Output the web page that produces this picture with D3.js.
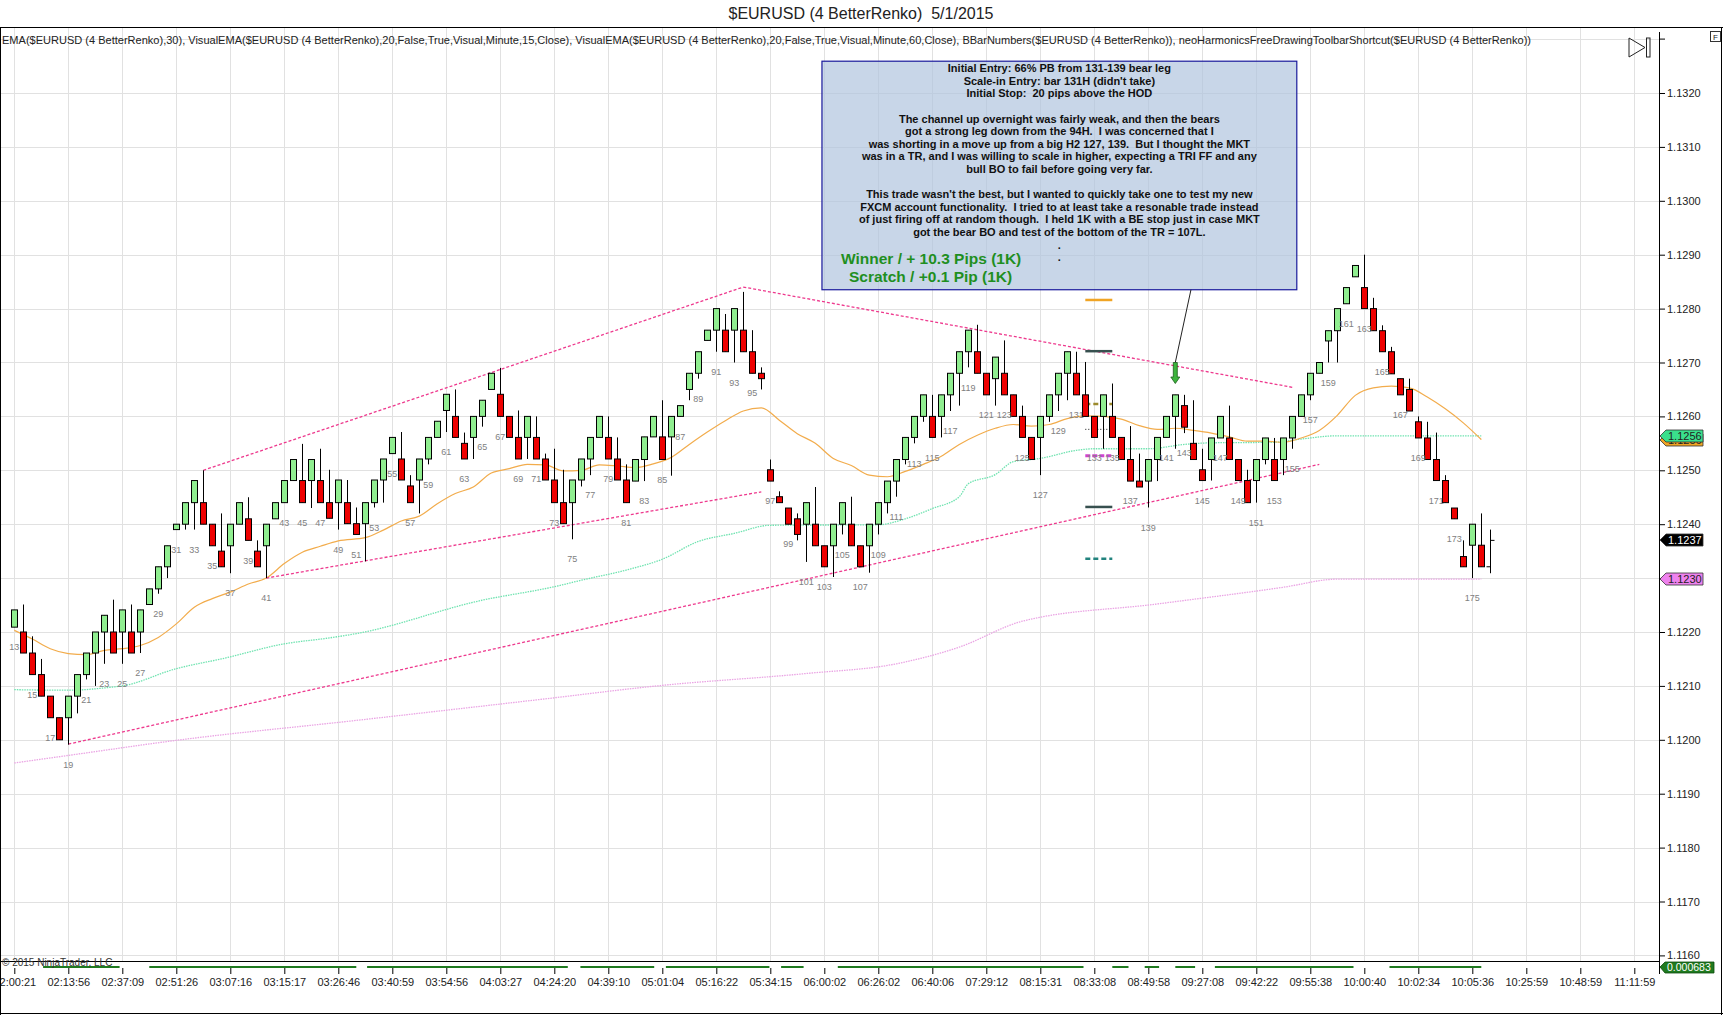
<!DOCTYPE html>
<html>
<head>
<meta charset="utf-8">
<script src="https://cdn.jsdelivr.net/npm/d3@7"></script>
<style>
  body { margin: 0; background: #fff; }
  svg { display: block; font-family: Arial, 'Liberation Sans', sans-serif; }
</style>
</head>
<body>
<div id="container"></div>
<script>
const firstBar = 13;

// [open, high, low, close] per renko bar, starting at bar 13
const ohlc = [
  [1.12209, 1.12241, 1.12209, 1.12241], [1.12200, 1.12251, 1.12161, 1.12161], [1.12161, 1.12192, 1.12121, 1.12121],
  [1.12121, 1.12150, 1.12081, 1.12081], [1.12081, 1.12081, 1.12041, 1.12041], [1.12041, 1.12041, 1.12000, 1.12000],
  [1.12041, 1.12081, 1.11991, 1.12081], [1.12081, 1.12121, 1.12049, 1.12121], [1.12121, 1.12161, 1.12112, 1.12161],
  [1.12161, 1.12200, 1.12100, 1.12200], [1.12200, 1.12231, 1.12141, 1.12231], [1.12200, 1.12260, 1.12161, 1.12161],
  [1.12200, 1.12241, 1.12141, 1.12241], [1.12200, 1.12251, 1.12161, 1.12161], [1.12200, 1.12241, 1.12161, 1.12241],
  [1.12251, 1.12280, 1.12251, 1.12280], [1.12280, 1.12321, 1.12271, 1.12321], [1.12321, 1.12360, 1.12300, 1.12360],
  [1.12390, 1.12400, 1.12390, 1.12400], [1.12400, 1.12440, 1.12390, 1.12440], [1.12440, 1.12481, 1.12390, 1.12481],
  [1.12440, 1.12500, 1.12400, 1.12400], [1.12400, 1.12400, 1.12360, 1.12360], [1.12350, 1.12420, 1.12321, 1.12321],
  [1.12360, 1.12400, 1.12309, 1.12400], [1.12400, 1.12440, 1.12400, 1.12440], [1.12410, 1.12450, 1.12370, 1.12370],
  [1.12350, 1.12370, 1.12321, 1.12321], [1.12360, 1.12400, 1.12300, 1.12400], [1.12410, 1.12440, 1.12410, 1.12440],
  [1.12440, 1.12481, 1.12440, 1.12481], [1.12481, 1.12520, 1.12481, 1.12520], [1.12481, 1.12549, 1.12440, 1.12440],
  [1.12481, 1.12520, 1.12430, 1.12520], [1.12481, 1.12540, 1.12440, 1.12440], [1.12440, 1.12501, 1.12411, 1.12411],
  [1.12440, 1.12482, 1.12390, 1.12482], [1.12440, 1.12482, 1.12401, 1.12401], [1.12401, 1.12431, 1.12381, 1.12381],
  [1.12401, 1.12440, 1.12331, 1.12440], [1.12440, 1.12482, 1.12431, 1.12482], [1.12482, 1.12521, 1.12440, 1.12521],
  [1.12531, 1.12561, 1.12531, 1.12561], [1.12521, 1.12571, 1.12482, 1.12482], [1.12471, 1.12491, 1.12440, 1.12440],
  [1.12482, 1.12521, 1.12420, 1.12521], [1.12521, 1.12561, 1.12511, 1.12561], [1.12561, 1.12591, 1.12561, 1.12591],
  [1.12611, 1.12641, 1.12571, 1.12641], [1.12600, 1.12650, 1.12561, 1.12561], [1.12550, 1.12570, 1.12521, 1.12521],
  [1.12561, 1.12600, 1.12521, 1.12600], [1.12600, 1.12630, 1.12581, 1.12630], [1.12650, 1.12680, 1.12650, 1.12680],
  [1.12641, 1.12690, 1.12600, 1.12600], [1.12600, 1.12600, 1.12561, 1.12561], [1.12561, 1.12611, 1.12521, 1.12521],
  [1.12561, 1.12600, 1.12521, 1.12600], [1.12561, 1.12600, 1.12521, 1.12521], [1.12521, 1.12531, 1.12482, 1.12482],
  [1.12482, 1.12540, 1.12440, 1.12440], [1.12440, 1.12501, 1.12401, 1.12401], [1.12440, 1.12482, 1.12372, 1.12482],
  [1.12482, 1.12521, 1.12470, 1.12521], [1.12521, 1.12561, 1.12491, 1.12561], [1.12561, 1.12600, 1.12561, 1.12600],
  [1.12561, 1.12600, 1.12521, 1.12521], [1.12521, 1.12561, 1.12482, 1.12482], [1.12482, 1.12511, 1.12440, 1.12440],
  [1.12480, 1.12520, 1.12480, 1.12520], [1.12520, 1.12562, 1.12480, 1.12562], [1.12562, 1.12600, 1.12562, 1.12600],
  [1.12562, 1.12630, 1.12520, 1.12520], [1.12562, 1.12600, 1.12490, 1.12600], [1.12600, 1.12620, 1.12600, 1.12620],
  [1.12650, 1.12680, 1.12630, 1.12680], [1.12680, 1.12720, 1.12670, 1.12720], [1.12741, 1.12760, 1.12741, 1.12760],
  [1.12760, 1.12800, 1.12720, 1.12800], [1.12760, 1.12790, 1.12720, 1.12720], [1.12760, 1.12800, 1.12700, 1.12800],
  [1.12760, 1.12831, 1.12720, 1.12720], [1.12720, 1.12760, 1.12680, 1.12680], [1.12680, 1.12691, 1.12650, 1.12670],
  [1.12501, 1.12520, 1.12480, 1.12480], [1.12451, 1.12461, 1.12440, 1.12440], [1.12430, 1.12430, 1.12400, 1.12400],
  [1.12410, 1.12420, 1.12370, 1.12381], [1.12400, 1.12440, 1.12330, 1.12440], [1.12400, 1.12469, 1.12360, 1.12360],
  [1.12360, 1.12360, 1.12321, 1.12321], [1.12360, 1.12400, 1.12302, 1.12400], [1.12400, 1.12440, 1.12381, 1.12440],
  [1.12400, 1.12451, 1.12360, 1.12360], [1.12360, 1.12360, 1.12321, 1.12321], [1.12360, 1.12400, 1.12310, 1.12400],
  [1.12400, 1.12440, 1.12381, 1.12440], [1.12440, 1.12480, 1.12420, 1.12480], [1.12480, 1.12520, 1.12451, 1.12520],
  [1.12520, 1.12561, 1.12511, 1.12561], [1.12561, 1.12600, 1.12550, 1.12600], [1.12600, 1.12640, 1.12590, 1.12640],
  [1.12600, 1.12640, 1.12561, 1.12561], [1.12600, 1.12640, 1.12561, 1.12640], [1.12640, 1.12680, 1.12610, 1.12680],
  [1.12680, 1.12720, 1.12620, 1.12720], [1.12720, 1.12760, 1.12691, 1.12760], [1.12720, 1.12770, 1.12680, 1.12680],
  [1.12680, 1.12680, 1.12640, 1.12640], [1.12670, 1.12710, 1.12620, 1.12710], [1.12680, 1.12741, 1.12640, 1.12640],
  [1.12640, 1.12640, 1.12600, 1.12600], [1.12600, 1.12620, 1.12561, 1.12561], [1.12561, 1.12561, 1.12520, 1.12520],
  [1.12561, 1.12600, 1.12491, 1.12600], [1.12600, 1.12640, 1.12590, 1.12640], [1.12640, 1.12680, 1.12610, 1.12680],
  [1.12680, 1.12720, 1.12630, 1.12720], [1.12680, 1.12720, 1.12640, 1.12640], [1.12640, 1.12701, 1.12600, 1.12600],
  [1.12600, 1.12600, 1.12561, 1.12561], [1.12600, 1.12640, 1.12540, 1.12640], [1.12600, 1.12661, 1.12561, 1.12561],
  [1.12561, 1.12561, 1.12520, 1.12520], [1.12520, 1.12582, 1.12480, 1.12480], [1.12480, 1.12531, 1.12469, 1.12469],
  [1.12480, 1.12520, 1.12431, 1.12520], [1.12520, 1.12561, 1.12480, 1.12561], [1.12561, 1.12600, 1.12561, 1.12600],
  [1.12600, 1.12640, 1.12540, 1.12640], [1.12620, 1.12640, 1.12569, 1.12580], [1.12550, 1.12630, 1.12520, 1.12520],
  [1.12501, 1.12540, 1.12481, 1.12481], [1.12520, 1.12560, 1.12481, 1.12560], [1.12560, 1.12600, 1.12560, 1.12600],
  [1.12560, 1.12620, 1.12520, 1.12520], [1.12520, 1.12520, 1.12481, 1.12481], [1.12481, 1.12501, 1.12440, 1.12440],
  [1.12481, 1.12520, 1.12440, 1.12520], [1.12520, 1.12560, 1.12511, 1.12560], [1.12520, 1.12560, 1.12481, 1.12481],
  [1.12520, 1.12560, 1.12491, 1.12560], [1.12560, 1.12600, 1.12540, 1.12600], [1.12600, 1.12640, 1.12600, 1.12640],
  [1.12640, 1.12680, 1.12630, 1.12680], [1.12680, 1.12700, 1.12680, 1.12700], [1.12740, 1.12759, 1.12700, 1.12759],
  [1.12759, 1.12800, 1.12700, 1.12800], [1.12809, 1.12839, 1.12809, 1.12839], [1.12859, 1.12880, 1.12859, 1.12880],
  [1.12839, 1.12900, 1.12800, 1.12800], [1.12800, 1.12820, 1.12759, 1.12759], [1.12759, 1.12769, 1.12720, 1.12720],
  [1.12720, 1.12729, 1.12679, 1.12679], [1.12670, 1.12670, 1.12640, 1.12640], [1.12650, 1.12670, 1.12610, 1.12610],
  [1.12590, 1.12600, 1.12560, 1.12560], [1.12560, 1.12590, 1.12520, 1.12520], [1.12520, 1.12570, 1.12481, 1.12481],
  [1.12481, 1.12491, 1.12440, 1.12440], [1.12430, 1.12430, 1.12410, 1.12410], [1.12340, 1.12370, 1.12321, 1.12321],
  [1.12361, 1.12400, 1.12300, 1.12400], [1.12361, 1.12420, 1.12321, 1.12321], [1.12321, 1.12390, 1.12309, 1.12370],
];

const timeLabels = [
  '02:00:21', '02:13:56', '02:37:09', '02:51:26', '03:07:16', '03:15:17', '03:26:46', '03:40:59',
  '03:54:56', '04:03:27', '04:24:20', '04:39:10', '05:01:04', '05:16:22', '05:34:15', '06:00:02',
  '06:26:02', '06:40:06', '07:29:12', '08:15:31', '08:33:08', '08:49:58', '09:27:08', '09:42:22',
  '09:55:38', '10:00:40', '10:02:34', '10:05:36', '10:25:59', '10:48:59', '11:11:59',
];
const priceTicks = [1.1160, 1.1170, 1.1180, 1.1190, 1.1200, 1.1210, 1.1220, 1.1230, 1.1240,
  1.1250, 1.1260, 1.1270, 1.1280, 1.1290, 1.1300, 1.1310, 1.1320];

// EMA(30)
const ema30 = [
  [13, 1.12203], [15, 1.12187], [17, 1.12169], [19, 1.12160], [21, 1.12158], [23, 1.12166], [25, 1.12169],
  [27, 1.12175], [29, 1.12190], [31, 1.12215], [33, 1.12246], [35, 1.12262], [37, 1.12274], [39, 1.12289],
  [41, 1.12300], [43, 1.12327], [45, 1.12348], [47, 1.12359], [49, 1.12369], [52, 1.12375], [54, 1.12389],
  [56, 1.12406], [58, 1.12415], [60, 1.12438], [62, 1.12457], [64, 1.12469], [66, 1.12495], [68, 1.12503],
  [70, 1.12511], [72, 1.12510], [74, 1.12499], [76, 1.12500], [78, 1.12510], [80, 1.12508], [82, 1.12505],
  [84, 1.12512], [86, 1.12524], [88, 1.12548], [90, 1.12571], [92, 1.12592], [94, 1.12610], [96, 1.12616],
  [98, 1.12593], [100, 1.12568], [102, 1.12550], [104, 1.12522], [106, 1.12509], [108, 1.12491], [110, 1.12488],
  [112, 1.12498], [114, 1.12511], [116, 1.12526], [118, 1.12548], [120, 1.12565], [122, 1.12578], [124, 1.12585],
  [126, 1.12582], [128, 1.12585], [130, 1.12596], [132, 1.12601], [134, 1.12600], [136, 1.12595], [138, 1.12583],
  [140, 1.12576], [142, 1.12578], [144, 1.12574], [146, 1.12569], [148, 1.12562], [150, 1.12554], [152, 1.12554],
  [154, 1.12552], [156, 1.12560], [158, 1.12574], [160, 1.12602], [162, 1.12639], [164, 1.12653], [166, 1.12656],
  [168, 1.12653], [170, 1.12636], [172, 1.12614], [174, 1.12588], [176, 1.12557],
];
// VisualEMA 15 min
const ema15 = [
  [13, 1.12093], [19, 1.12092], [24, 1.12098], [25, 1.12100], [31, 1.12132], [36, 1.12150], [43, 1.12178],
  [48, 1.12189], [51, 1.12197], [65, 1.12259], [73, 1.12284], [76, 1.12296], [81, 1.12315], [85, 1.12335],
  [89, 1.12368], [93, 1.12383], [97, 1.12398], [109, 1.12399], [112, 1.12410], [115, 1.12429], [118, 1.12451],
  [119, 1.12475], [122, 1.12492], [124, 1.12516], [127, 1.12522], [131, 1.12537], [133, 1.12540], [139, 1.12540],
  [143, 1.12548], [146, 1.12551], [153, 1.12552], [156, 1.12558], [160, 1.12564], [176, 1.12564],
];
// VisualEMA 60 min
const ema60 = [
  [13, 1.11957], [19, 1.11971], [31, 1.11999], [51, 1.12036], [71, 1.12074], [85, 1.12101], [101, 1.12123],
  [111, 1.12141], [118, 1.12172], [125, 1.12220], [140, 1.12252], [154, 1.12283], [160, 1.12298], [176, 1.12298],
];

// hand-drawn trend lines: [bar1, price1, bar2, price2]
const trendLines = [
  [19, 1.11992, 158, 1.12511],
  [34, 1.12500, 94, 1.12840],
  [41, 1.12300, 96, 1.12460],
  [94, 1.12840, 155, 1.12654],
];
// order level marks between bars 132 and 135
const levelPrices = [1.12816, 1.12721, 1.12623, 1.12576, 1.12527, 1.12432, 1.12336];
const levelBars = [132, 135];

// lower strip indicator segments (bar ranges)
const stripSegments = [[16.2, 24.7], [28, 51], [52.2, 74.5], [75.9, 84.1], [85.4, 96.9], [98.2, 100.7],
  [104.5, 131.8], [135, 136.8], [138.6, 140.2], [142, 144.2], [146.4, 161.8], [165.8, 176]];
const stripValue = '0.000683';

const noteBox = { bar1: 102.74, bar2: 155.5, top: 1.13259, bottom: 1.12835 };
const noteLines = [
  'Initial Entry: 66% PB from 131-139 bear leg',
  'Scale-in Entry: bar 131H (didn\'t take)',
  'Initial Stop:  20 pips above the HOD',
  '',
  'The channel up overnight was fairly weak, and then the bears',
  'got a strong leg down from the 94H.  I was concerned that I',
  'was shorting in a move up from a big H2 127, 139.  But I thought the MKT',
  'was in a TR, and I was willing to scale in higher, expecting a TRI FF and any',
  'bull BO to fail before going very far.',
  '',
  'This trade wasn\'t the best, but I wanted to quickly take one to test my new',
  'FXCM account functionality.  I tried to at least take a resonable trade instead',
  'of just firing off at random though.  I held 1K with a BE stop just in case MKT',
  'got the bear BO and test of the bottom of the TR = 107L.',
  '.',
  '.',
];
const resultLines = ['Winner / + 10.3 Pips (1K)', 'Scratch / +0.1 Pip (1K)'];
const entryArrow = { bar: 142, top: 1.12700, tip: 1.12661, fromBar: 143.74 };

const title = '$EURUSD (4 BetterRenko)  5/1/2015';
const indicatorText = 'EMA($EURUSD (4 BetterRenko),30), VisualEMA($EURUSD (4 BetterRenko),20,False,True,Visual,Minute,15,Close), VisualEMA($EURUSD (4 BetterRenko),20,False,True,Visual,Minute,60,Close), BBarNumbers($EURUSD (4 BetterRenko)), neoHarmonicsFreeDrawingToolbarShortcut($EURUSD (4 BetterRenko))';

const W = 1723, H = 1015;
const plotRight = 1659, plotTop = 27, plotBottom = 961;

const svg = d3.select('#container').append('svg').attr('width', W).attr('height', H);

const x = d3.scaleLinear().domain([13, 193]).range([14.3, 1634.3]);
const y = d3.scaleLinear().domain([1.116, 1.132]).range([955.4, 93]);

const bars = ohlc.map((d, i) => ({ n: firstBar + i, o: d[0], h: d[1], l: d[2], c: d[3] }));

svg.append('defs').append('clipPath').attr('id', 'plot')
  .append('rect').attr('x', 0).attr('y', plotTop).attr('width', plotRight).attr('height', plotBottom - plotTop);

// title
svg.append('text').attr('x', 861).attr('y', 19).attr('text-anchor', 'middle')
  .style('font-size', '16px').style('fill', '#222').style('white-space', 'pre').text(title);

// grid
const grid = svg.append('g').attr('clip-path', 'url(#plot)');
const xTicks = d3.range(13, 194, 6);
grid.selectAll('.vg').data(xTicks).enter().append('line')
  .attr('x1', d => Math.round(x(d)) + 0.5).attr('x2', d => Math.round(x(d)) + 0.5)
  .attr('y1', plotTop).attr('y2', plotBottom)
  .attr('stroke', '#e1e1e1');
grid.selectAll('.hg').data(priceTicks.concat([1.1330])).enter().append('line')
  .attr('x1', 0).attr('x2', plotRight)
  .attr('y1', d => Math.round(y(d)) + 0.5).attr('y2', d => Math.round(y(d)) + 0.5)
  .attr('stroke', '#e1e1e1');

svg.append('text').attr('x', 2).attr('y', 44)
  .attr('textLength', 1529).attr('lengthAdjust', 'spacingAndGlyphs')
  .style('font-size', '11px').style('fill', '#222').text(indicatorText);

const plot = svg.append('g').attr('clip-path', 'url(#plot)');

// note box (drawn behind marks)
const bx1 = x(noteBox.bar1), bx2 = x(noteBox.bar2), by1 = y(noteBox.top), by2 = y(noteBox.bottom);
plot.append('rect').attr('x', bx1).attr('y', by1).attr('width', bx2 - bx1).attr('height', by2 - by1)
  .attr('fill', 'lightsteelblue').attr('fill-opacity', 0.7)
  .attr('stroke', '#1a1a9c').attr('stroke-width', 1.2);
plot.selectAll('.note').data(noteLines).enter().append('text')
  .attr('x', (bx1 + bx2) / 2).attr('y', (d, i) => by1 + 11 + i * 12.6)
  .attr('text-anchor', 'middle')
  .style('font-size', '11px').style('font-weight', 'bold').style('fill', '#111').style('white-space', 'pre')
  .text(d => d);
plot.selectAll('.res').data(resultLines).enter().append('text')
  .attr('x', (d, i) => bx1 + (i ? 27 : 19)).attr('y', (d, i) => by1 + 202.5 + i * 18)
  .style('font-size', '15.5px').style('font-weight', 'bold').style('fill', '#1f8f1f')
  .text(d => d);

// indicator lines
const line = d3.line().x(d => x(d[0])).y(d => y(d[1])).curve(d3.curveMonotoneX);
plot.append('path').attr('d', line(ema60)).attr('fill', 'none')
  .attr('stroke', '#eaa4e4').attr('stroke-width', 1.3).attr('stroke-dasharray', '1.5,1');
plot.append('path').attr('d', line(ema15)).attr('fill', 'none')
  .attr('stroke', '#6fe3b0').attr('stroke-width', 1.3).attr('stroke-dasharray', '1.5,1');
plot.append('path').attr('d', line(ema30)).attr('fill', 'none')
  .attr('stroke', '#f2ac4c').attr('stroke-width', 1.2);

// trend lines
plot.selectAll('.tl').data(trendLines).enter().append('line')
  .attr('x1', d => x(d[0])).attr('y1', d => y(d[1]))
  .attr('x2', d => x(d[2])).attr('y2', d => y(d[3]))
  .attr('stroke', '#ee3a8e').attr('stroke-width', 1.3).attr('stroke-dasharray', '3,2');

// level marks
const levelStyles = [
  { c: '#f0a424', w: 2.5, dash: null, end: 135 },
  { c: '#37504f', w: 2.5, dash: null, end: 135 },
  { c: '#9c8a2c', w: 2.5, dash: '5,3', end: 135 },
  { c: '#111', w: 1, dash: '1,2', end: 134.6 },
  { c: '#d043d0', w: 3, dash: '5,2', end: 135 },
  { c: '#37504f', w: 2.5, dash: null, end: 135 },
  { c: '#22837e', w: 2.5, dash: '5,3', end: 135 },
];
plot.selectAll('.lv').data(levelPrices).enter().append('line')
  .attr('x1', x(levelBars[0])).attr('x2', (d, i) => x(levelStyles[i].end))
  .attr('y1', d => y(d)).attr('y2', d => y(d))
  .attr('stroke', (d, i) => levelStyles[i].c).attr('stroke-width', (d, i) => levelStyles[i].w)
  .attr('stroke-dasharray', (d, i) => levelStyles[i].dash);

// candles; the last bar is still forming and is drawn as an OHLC bar
const closed = bars.slice(0, -1), live = bars[bars.length - 1];
plot.selectAll('.wick').data(closed).enter().append('line')
  .attr('x1', d => Math.round(x(d.n)) + 0.5).attr('x2', d => Math.round(x(d.n)) + 0.5)
  .attr('y1', d => y(d.h)).attr('y2', d => y(d.l))
  .attr('stroke', '#000').attr('stroke-width', 1);
plot.selectAll('.body').data(closed).enter().append('rect')
  .attr('x', d => Math.round(x(d.n)) - 2.5).attr('width', 6)
  .attr('y', d => y(Math.max(d.o, d.c)))
  .attr('height', d => Math.max(1, Math.abs(y(d.o) - y(d.c))))
  .attr('fill', d => d.c >= d.o ? '#90ee90' : '#ee0000')
  .attr('stroke', '#000').attr('stroke-width', 1);
const lx = Math.round(x(live.n)) + 0.5;
plot.append('line').attr('x1', lx).attr('x2', lx).attr('y1', y(live.h)).attr('y2', y(live.l)).attr('stroke', '#000');
plot.append('line').attr('x1', lx - 4).attr('x2', lx).attr('y1', y(live.o)).attr('y2', y(live.o)).attr('stroke', '#000');
plot.append('line').attr('x1', lx).attr('x2', lx + 4).attr('y1', y(live.c)).attr('y2', y(live.c)).attr('stroke', '#000');

// bar numbers
plot.selectAll('.num').data(closed.filter(d => d.n % 2 === 1)).enter().append('text')
  .attr('x', d => x(d.n)).attr('y', d => y(d.l) + 20).attr('dy', '0.35em')
  .attr('text-anchor', 'middle')
  .style('font-size', '9px').style('fill', '#808080')
  .text(d => d.n);

// entry arrow
const ax = x(entryArrow.bar), aTop = y(entryArrow.top), aTip = y(entryArrow.tip), aHead = aTip - 6.5;
plot.append('line').attr('x1', x(entryArrow.fromBar)).attr('y1', by2).attr('x2', ax).attr('y2', aTop)
  .attr('stroke', '#222').attr('stroke-width', 1);
plot.append('path')
  .attr('d', `M${ax - 2},${aTop}L${ax + 2},${aTop}L${ax + 2},${aHead}L${ax + 4.5},${aHead}L${ax},${aTip}L${ax - 4.5},${aHead}L${ax - 2},${aHead}Z`)
  .attr('fill', '#3cb43c').attr('stroke', '#1c5c1c').attr('stroke-width', 0.8);

// price axis
const yAxis = svg.append('g').attr('transform', `translate(${plotRight},0)`)
  .call(d3.axisRight(y).tickValues(priceTicks).tickFormat(d3.format('.4f')).tickSize(6).tickPadding(2).tickSizeOuter(0));
yAxis.select('.domain').remove();
yAxis.selectAll('text').style('font-size', '11px').style('fill', '#222').style('font-family', 'Arial, sans-serif');
yAxis.selectAll('line').attr('stroke', '#000');
svg.append('line').attr('x1', plotRight + 0.5).attr('x2', plotRight + 0.5).attr('y1', 32).attr('y2', 974)
  .attr('stroke', '#000');
svg.append('line').attr('x1', plotRight).attr('x2', plotRight + 6).attr('y1', y(1.1330)).attr('y2', y(1.1330))
  .attr('stroke', '#000');

// right-axis value markers
function marker(v, fill, textFill) {
  const yy = Math.round(y(v));
  svg.append('path')
    .attr('d', `M${plotRight + 1},${yy}L${plotRight + 7},${yy - 6}L${plotRight + 44},${yy - 6}L${plotRight + 44},${yy + 6}L${plotRight + 7},${yy + 6}Z`)
    .attr('fill', fill).attr('stroke', '#333').attr('stroke-width', 0.8);
  svg.append('text').attr('x', plotRight + 9).attr('y', yy).attr('dy', '0.36em')
    .style('font-size', '11px').style('fill', textFill).text(d3.format('.4f')(v));
}
marker(ema60[ema60.length - 1][1], '#ee82ee', '#222');
marker(ema30[ema30.length - 1][1], '#f0a424', '#222');
marker(ema15[ema15.length - 1][1], '#3ae08c', '#222');
marker(live.c, '#000', '#fff');

// lower strip
svg.append('line').attr('x1', 0).attr('x2', plotRight).attr('y1', plotBottom + 0.5).attr('y2', plotBottom + 0.5)
  .attr('stroke', '#000');
svg.selectAll('.seg').data(stripSegments).enter().append('line')
  .attr('x1', d => x(d[0])).attr('x2', d => x(d[1]))
  .attr('y1', 967).attr('y2', 967)
  .attr('stroke', '#1f7a1f').attr('stroke-width', 2);
svg.append('path')
  .attr('d', `M${plotRight + 1},967L${plotRight + 6},962L${plotRight + 55},962L${plotRight + 55},973L${plotRight + 6},973Z`)
  .attr('fill', '#1f7a1f').attr('stroke', '#0d4d0d').attr('stroke-width', 0.8);
svg.append('text').attr('x', plotRight + 8).attr('y', 967).attr('dy', '0.36em')
  .style('font-size', '10.5px').style('fill', '#fff').text(stripValue);
svg.append('text').attr('x', 2).attr('y', 966)
  .style('font-size', '10px').style('fill', '#333').text('\u00a9 2015 NinjaTrader, LLC');

// time axis
const xAxis = svg.append('g').attr('transform', 'translate(0,968)')
  .call(d3.axisBottom(x).tickValues(xTicks).tickFormat((d, i) => timeLabels[i]).tickSize(6).tickPadding(4).tickSizeOuter(0));
xAxis.select('.domain').remove();
xAxis.selectAll('text').style('font-size', '11px').style('fill', '#222').style('font-family', 'Arial, sans-serif');
xAxis.selectAll('line').attr('stroke', '#000');

// frame
svg.append('line').attr('x1', 0).attr('x2', W).attr('y1', plotTop + 0.5).attr('y2', plotTop + 0.5).attr('stroke', '#000');
svg.append('line').attr('x1', 0.5).attr('x2', 0.5).attr('y1', plotTop).attr('y2', H).attr('stroke', '#000');
svg.append('line').attr('x1', W - 1.5).attr('x2', W - 1.5).attr('y1', plotTop).attr('y2', H).attr('stroke', '#000');
svg.append('line').attr('x1', 0).attr('x2', W).attr('y1', H - 1.5).attr('y2', H - 1.5).attr('stroke', '#000');

// toolbar glyphs
svg.append('path').attr('d', 'M1629,38L1645,47.5L1629,57Z').attr('fill', 'none').attr('stroke', '#222');
svg.append('rect').attr('x', 1646.5).attr('y', 38).attr('width', 3.5).attr('height', 19).attr('fill', 'none').attr('stroke', '#222');
svg.append('rect').attr('x', 1710.5).attr('y', 31.5).attr('width', 10).attr('height', 10).attr('fill', '#fff').attr('stroke', '#333');
svg.append('text').attr('x', 1715.5).attr('y', 40).attr('text-anchor', 'middle')
  .style('font-size', '8px').style('fill', '#222').text('F');
</script>
</body>
</html>
